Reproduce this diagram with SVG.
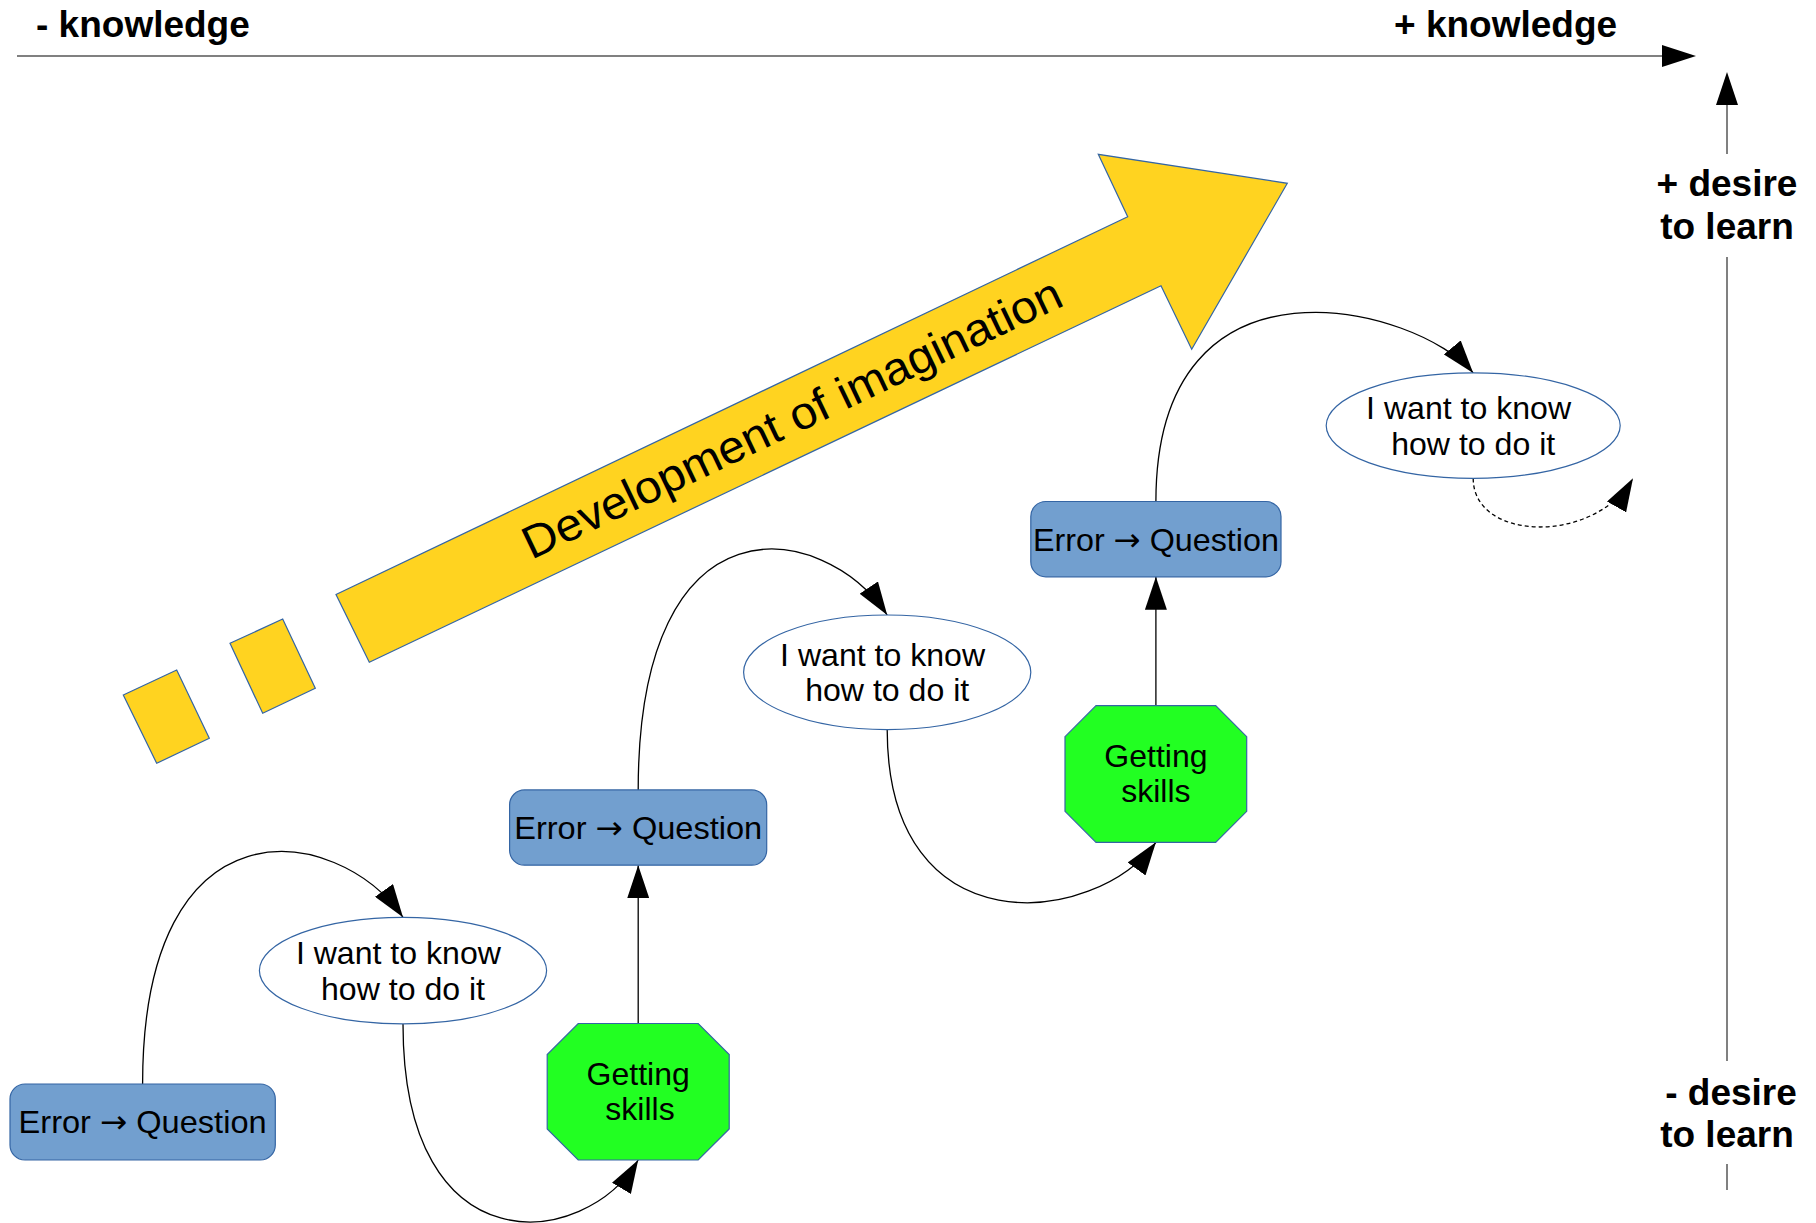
<svg xmlns="http://www.w3.org/2000/svg" width="1816" height="1223" viewBox="0 0 1816 1223">
<style>
.ax{stroke:#808080;stroke-width:2;fill:none}
.lbl{font-family:"Liberation Sans",Arial,sans-serif;font-weight:bold;font-size:37px;fill:#000}
.box{fill:#729fcf;stroke:#3465a4;stroke-width:1.2}
.ell{fill:#fff;stroke:#3465a4;stroke-width:1.2}
.oct{fill:#22ff22;stroke:#3465a4;stroke-width:1.2}
.yel{fill:#ffd320;stroke:#3465a4;stroke-width:1.2}
.t{font-family:"Liberation Sans",Arial,sans-serif;font-size:32px;fill:#000;text-anchor:middle}
.arr{font-family:"DejaVu Sans",sans-serif}
.con{fill:none;stroke:#000;stroke-width:1.3}
.dash{stroke-dasharray:4 3}
</style>
<defs>
<marker id="ah" viewBox="0 0 33 22" markerWidth="33" markerHeight="22" refX="33" refY="11" markerUnits="userSpaceOnUse" orient="auto">
<path d="M0,0 L33,11 L0,22 Z" fill="#000"/>
</marker>
</defs>
<rect width="1816" height="1223" fill="#fff"/>

<g id="axes">
<line class="ax" x1="17" y1="56" x2="1664" y2="56"/>
<path d="M1662,45 L1696,56 L1662,67 Z" fill="#000"/>
<line class="ax" x1="1727" y1="104" x2="1727" y2="154"/>
<path d="M1716,105 L1727,72 L1738,105 Z" fill="#000"/>
<line class="ax" x1="1727" y1="257" x2="1727" y2="1061"/>
<line class="ax" x1="1727" y1="1164" x2="1727" y2="1190"/>
<text class="lbl" x="36" y="37">- knowledge</text>
<text class="lbl" x="1394" y="37">+ knowledge</text>
<text class="lbl" x="1727" y="196" text-anchor="middle">+ desire</text>
<text class="lbl" x="1727" y="239" text-anchor="middle">to learn</text>
<text class="lbl" x="1731" y="1105" text-anchor="middle">- desire</text>
<text class="lbl" x="1727" y="1147" text-anchor="middle">to learn</text>
</g>

<g id="imagination">
<polygon class="yel" points="123.3,695 176.7,670 209.3,738.3 156.7,763.3"/>
<polygon class="yel" points="230,643.3 282.7,619 315.3,688.3 262.7,713.3"/>
<polygon class="yel" points="336,594.5 1127.7,216.7 1098.3,154.3 1287.3,183.3 1191.7,349.3 1161,285.7 369.3,662.3"/>
<text x="798.7" y="432.3" transform="rotate(-25.54 798.7 432.3)" font-family="Liberation Sans, Arial, sans-serif" font-size="46" text-anchor="middle" textLength="592" lengthAdjust="spacingAndGlyphs" fill="#000">Development of imagination</text>
</g>

<g id="connectors">
<path class="con" d="M142.6,1084 C142.6,795 335.9,822 403,917.3" marker-end="url(#ah)"/>
<path class="con" d="M403,1023.9 C403,1270 585,1250 638.2,1160" marker-end="url(#ah)"/>
<line class="con" x1="638.2" y1="1023.5" x2="638.2" y2="865.2" marker-end="url(#ah)"/>
<path class="con" d="M638.2,789.9 C638.2,490 823.5,520 887.2,615" marker-end="url(#ah)"/>
<path class="con" d="M887.2,729.7 C887.2,949.7 1095,926.6 1155.9,842.3" marker-end="url(#ah)"/>
<line class="con" x1="1155.9" y1="705.7" x2="1155.9" y2="576.8" marker-end="url(#ah)"/>
<path class="con" d="M1155.9,501.5 C1155.9,237.4 1418.8,306.9 1473.2,372.9" marker-end="url(#ah)"/>
<path class="con dash" d="M1473.2,478.3 C1473.2,542 1595,544.4 1633,478.3" marker-end="url(#ah)"/>
</g>

<g id="error1">
<rect class="box" x="10" y="1084" width="265.3" height="76" rx="15"/>
<text class="t" x="142.6" y="1133.3" textLength="248" lengthAdjust="spacingAndGlyphs">Error <tspan class="arr">→</tspan> Question</text>
</g>
<g id="want1">
<ellipse class="ell" cx="403" cy="970.6" rx="143.6" ry="53.3"/>
<text class="t" x="398.4" y="964.1" textLength="205" lengthAdjust="spacingAndGlyphs">I want to know</text>
<text class="t" x="403" y="999.6" textLength="164" lengthAdjust="spacingAndGlyphs">how to do it</text>
</g>
<g id="skills1">
<polygon class="oct" points="578.2,1023.5 698.2,1023.5 729.2,1054.5 729.2,1129 698.2,1160 578.2,1160 547.2,1129 547.2,1054.5"/>
<text class="t" x="638.2" y="1085">Getting</text>
<text class="t" x="640" y="1119.5">skills</text>
</g>
<g id="error2">
<rect class="box" x="509.6" y="789.9" width="257.1" height="75.3" rx="15"/>
<text class="t" x="638.2" y="838.9" textLength="248" lengthAdjust="spacingAndGlyphs">Error <tspan class="arr">→</tspan> Question</text>
</g>
<g id="want2">
<ellipse class="ell" cx="887.2" cy="672.3" rx="143.6" ry="57.3"/>
<text class="t" x="882.6" y="665.8" textLength="205" lengthAdjust="spacingAndGlyphs">I want to know</text>
<text class="t" x="887.2" y="701.3" textLength="164" lengthAdjust="spacingAndGlyphs">how to do it</text>
</g>
<g id="skills2">
<polygon class="oct" points="1096,705.7 1215.7,705.7 1246.7,736.7 1246.7,811.3 1215.7,842.3 1096,842.3 1065,811.3 1065,736.7"/>
<text class="t" x="1155.9" y="767.3">Getting</text>
<text class="t" x="1155.9" y="801.7">skills</text>
</g>
<g id="error3">
<rect class="box" x="1030.8" y="501.5" width="250.2" height="75.3" rx="15"/>
<text class="t" x="1155.9" y="550.5" textLength="246" lengthAdjust="spacingAndGlyphs">Error <tspan class="arr">→</tspan> Question</text>
</g>
<g id="want3">
<ellipse class="ell" cx="1473.2" cy="425.6" rx="147" ry="52.7"/>
<text class="t" x="1468.6" y="419.1" textLength="205" lengthAdjust="spacingAndGlyphs">I want to know</text>
<text class="t" x="1473.2" y="454.6" textLength="164" lengthAdjust="spacingAndGlyphs">how to do it</text>
</g>
</svg>
